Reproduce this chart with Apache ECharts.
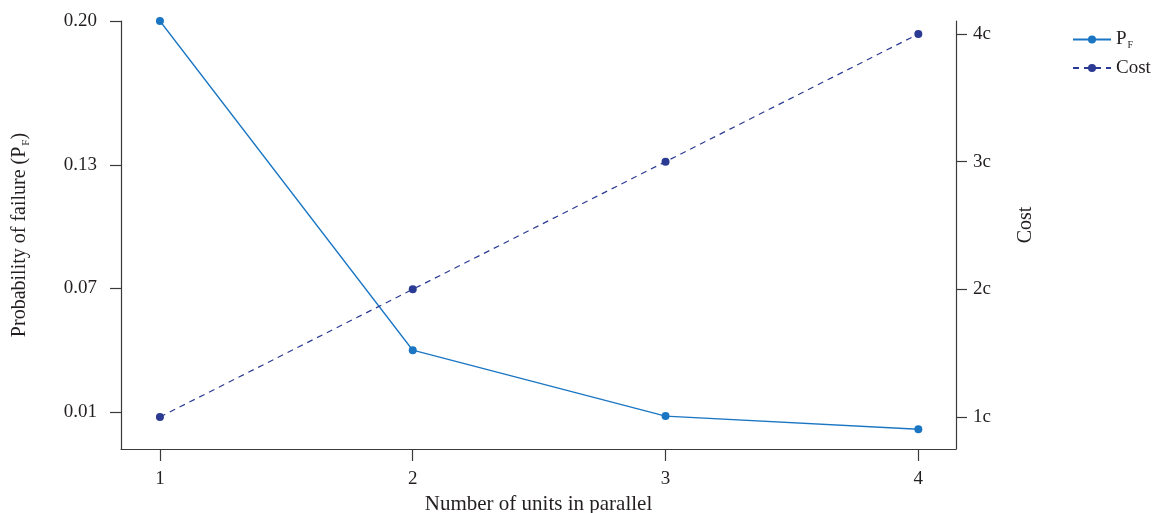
<!DOCTYPE html>
<html>
<head>
<meta charset="utf-8">
<script src="https://cdn.jsdelivr.net/npm/echarts@6/dist/echarts.min.js"></script>
<style>
html,body{margin:0;padding:0;background:#fff;}
#c{width:1163px;height:513px;}
</style>
</head>
<body>
<div id="c"></div>
<script>
const units = [1, 2, 3, 4];
const pfValues = [0.20, 0.04, 0.008, 0.0016];
const costValues = [1, 2, 3, 4];
const xTicks = [1, 2, 3, 4];
const pfTicks = [0.01, 0.07, 0.13, 0.20];
const costTicks = [1, 2, 3, 4];

const FONT = '"Liberation Serif", "DejaVu Serif", serif';
const TXT = '#231f20';
const AX = '#3a3a3a';
const PF_COLOR = '#1a76c3';
const COST_COLOR = '#2b3a92';
const FS = 19;

const chart = echarts.init(document.getElementById('c'), null, {renderer: 'canvas'});
chart.setOption({
  animation: false,
  backgroundColor: '#fff',
  textStyle: {fontFamily: FONT, color: TXT},
  grid: {left: 121, right: 207, top: 21, bottom: 64, containLabel: false, outerBoundsMode: 'none'},
  legend: {
    orient: 'vertical',
    left: 1067,
    top: 25,
    itemWidth: 38,
    itemHeight: 10,
    itemGap: 8,
    textStyle: {
      fontFamily: FONT, fontSize: FS, color: TXT,
      rich: {
        a: {fontFamily: FONT, fontSize: FS, color: TXT, lineHeight: 22},
        s: {fontFamily: FONT, fontSize: 10, color: TXT, verticalAlign: 'bottom', lineHeight: 14, padding: [0,0,0,1]}
      }
    },
    formatter: function (name) {
      return name === 'PF' ? '{a|P}{s|F}' : '{a|' + name + '}';
    },
    data: ['PF', 'Cost']
  },
  xAxis: {
    type: 'value',
    min: 0.846,
    max: 4.149,
    name: 'Number of units in parallel',
    nameLocation: 'middle',
    nameGap: 45,
    nameTextStyle: {fontFamily: FONT, fontSize: 21, color: TXT},
    axisLine: {show: true, onZero: false, lineStyle: {color: AX, width: 1.2}},
    axisTick: {show: true, length: 12, customValues: xTicks, lineStyle: {color: AX, width: 1.2}},
    axisLabel: {customValues: xTicks, margin: 21, fontFamily: FONT, fontSize: FS, color: TXT},
    splitLine: {show: false}
  },
  yAxis: [
    {
      type: 'value',
      min: -0.008,
      max: 0.20,
      position: 'left',
      name: '{a|Probability of failure (P}{s|F}{a|)}',
      nameLocation: 'middle',
      nameGap: 89,
      nameRotate: 90,
      nameTextStyle: {
        fontFamily: FONT, fontSize: 20, color: TXT,
        rich: {
          a: {fontFamily: FONT, fontSize: 20, color: TXT, lineHeight: 24},
          s: {fontFamily: FONT, fontSize: 11, color: TXT, verticalAlign: 'bottom', lineHeight: 15, padding: [0,0,0,1]}
        }
      },
      axisLine: {show: true, onZero: false, lineStyle: {color: AX, width: 1.2}},
      axisTick: {show: true, length: 11, customValues: pfTicks, lineStyle: {color: AX, width: 1.2}},
      axisLabel: {
        customValues: pfTicks, margin: 24, fontFamily: FONT, fontSize: FS, color: TXT,
        formatter: function (v) { return v.toFixed(2); }
      },
      splitLine: {show: false}
    },
    {
      type: 'value',
      min: 0.749,
      max: 4.102,
      position: 'right',
      name: 'Cost',
      nameLocation: 'middle',
      nameGap: 60,
      nameRotate: 90,
      nameTextStyle: {fontFamily: FONT, fontSize: 20, color: TXT, padding: [0, 0, 0, 20]},
      axisLine: {show: true, onZero: false, lineStyle: {color: AX, width: 1.2}},
      axisTick: {show: true, length: 11, customValues: costTicks, lineStyle: {color: AX, width: 1.2}},
      axisLabel: {
        customValues: costTicks, margin: 17, fontFamily: FONT, fontSize: FS, color: TXT,
        formatter: function (v) { return v + 'c'; }
      },
      splitLine: {show: false}
    }
  ],
  series: [
    {
      name: 'PF',
      type: 'line',
      yAxisIndex: 0,
      data: units.map((u, i) => [u, pfValues[i]]),
      symbol: 'circle',
      symbolSize: 8,
      itemStyle: {color: PF_COLOR},
      lineStyle: {color: PF_COLOR, width: 1.3}
    },
    {
      name: 'Cost',
      type: 'line',
      yAxisIndex: 1,
      data: units.map((u, i) => [u, costValues[i]]),
      symbol: 'circle',
      symbolSize: 8,
      itemStyle: {color: COST_COLOR},
      lineStyle: {color: COST_COLOR, width: 1.2, type: [6, 5]}
    }
  ]
});
</script>
</body>
</html>
